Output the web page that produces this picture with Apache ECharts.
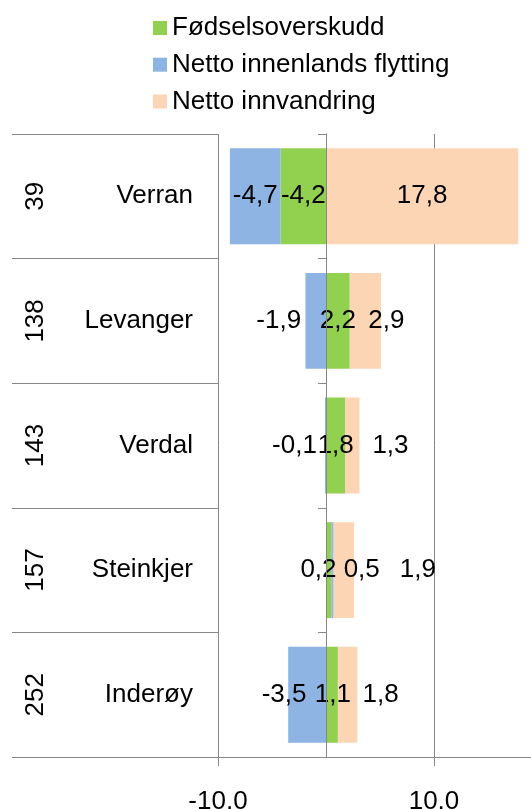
<!DOCTYPE html>
<html>
<head>
<meta charset="utf-8">
<script src="https://cdn.jsdelivr.net/npm/echarts@6/dist/echarts.min.js"></script>
<style>html,body{margin:0;padding:0;background:#fff;}#c{width:531px;height:809px;}</style>
</head>
<body>
<div id="c"></div>
<script>
// ---- data ----
const categories = ['Verran', 'Levanger', 'Verdal', 'Steinkjer', 'Inderøy'];
const ranks = ['39', '138', '143', '157', '252'];
const fodselsoverskudd = [-4.2, 2.2, 1.8, 0.5, 1.1];
const nettoInnenlands = [-4.7, -1.9, -0.1, 0.2, -3.5];
const nettoInnvandring = [17.8, 2.9, 1.3, 1.9, 1.8];
const tickValues = [-10, 10];
const tickLabels = ['-10,0', '10,0'];
const seriesNames = ['Fødselsoverskudd', 'Netto innenlands flytting', 'Netto innvandring'];

// ---- styling (label nudges, px) ----
const shiftFodsel = [0, 0, 0, 33, 1];
const shiftInnen = [0, -37, -31, -14, -23];
const shiftInnv = [0, 21, 38, 74, 33];

const FONT = 'Liberation Sans, Arial, sans-serif';
const GRAY = '#888888';
const fmt = v => v.toFixed(1).replace('.', ',');

function mkData(vals, shifts) {
  return vals.map((v, i) => ({ value: v, label: { offset: [shifts[i], 0] } }));
}
function mkSeries(name, vals, shifts, color) {
  return {
    name: name, type: 'bar', stack: 'total', xAxisIndex: 0, yAxisIndex: 0,
    barCategoryGap: '23%', z: 2,
    itemStyle: { color: color },
    label: {
      show: true, position: 'inside', color: '#000', fontFamily: FONT, fontSize: 26,
      textBorderWidth: 0, formatter: p => fmt(p.value)
    },
    data: mkData(vals, shifts)
  };
}

const chart = echarts.init(document.getElementById('c'), null, { renderer: 'canvas' });
chart.setOption({
  animation: false,
  backgroundColor: '#fff',
  textStyle: { fontFamily: FONT },
  legend: {
    orient: 'vertical', left: 148, top: 10, itemWidth: 14, itemHeight: 14, itemGap: 10.7,
    icon: 'rect', data: seriesNames,
    textStyle: { fontSize: 26, color: '#000', fontFamily: FONT }
  },
  grid: [
    { left: 218, top: 134, width: 324, height: 623, outerBoundsMode: 'none', containLabel: false },
    { left: 12, top: 134, width: 206, height: 623, outerBoundsMode: 'none', containLabel: false },
    { left: 49, top: 134, width: 10, height: 623, outerBoundsMode: 'none', containLabel: false }
  ],
  xAxis: [
    {
      type: 'value', gridIndex: 0, min: -10, max: 20, interval: 10,
      axisLine: { show: true, lineStyle: { color: GRAY, width: 1 } },
      axisTick: { show: true, length: 9, customValues: tickValues, lineStyle: { color: GRAY } },
      splitLine: { show: true, lineStyle: { color: GRAY, width: 1 } },
      axisLabel: {
        customValues: tickValues, margin: 32, color: '#000', fontSize: 26, fontFamily: FONT,
        formatter: v => { const i = tickValues.indexOf(v); return i >= 0 ? tickLabels[i] : ''; }
      }
    },
    { type: 'value', gridIndex: 1, show: false },
    { type: 'value', gridIndex: 2, show: false }
  ],
  yAxis: [
    {
      type: 'category', gridIndex: 0, data: categories, inverse: true, z: 3,
      axisLine: { show: true, onZero: true, lineStyle: { color: GRAY, width: 1 } },
      axisTick: { show: true, length: 8, lineStyle: { color: GRAY } },
      axisLabel: { show: false },
      splitLine: { show: false }
    },
    {
      type: 'category', gridIndex: 1, data: categories, inverse: true, position: 'left', offset: -181,
      axisLine: { show: false }, axisTick: { show: false },
      splitLine: { show: true, lineStyle: { color: GRAY, width: 1 } },
      axisLabel: { margin: 0, color: '#000', fontSize: 26, fontFamily: FONT }
    },
    {
      type: 'category', gridIndex: 2, data: ranks, inverse: true, position: 'left',
      axisLine: { show: false }, axisTick: { show: false }, splitLine: { show: false },
      axisLabel: { margin: 0, rotate: 90, color: '#000', fontSize: 26, fontFamily: FONT }
    }
  ],
  series: [
    mkSeries(seriesNames[0], fodselsoverskudd, shiftFodsel, '#92D050'),
    mkSeries(seriesNames[1], nettoInnenlands, shiftInnen, '#8DB4E2'),
    mkSeries(seriesNames[2], nettoInnvandring, shiftInnv, '#FCD5B5')
  ]
});
</script>
</body>
</html>
